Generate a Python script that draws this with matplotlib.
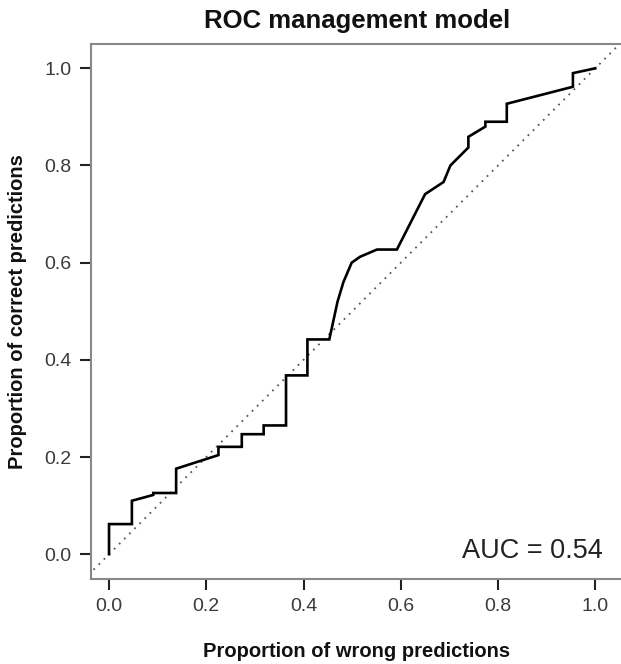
import matplotlib
matplotlib.use("Agg")
import matplotlib.pyplot as plt

# ROC curve points (false positive rate, true positive rate)
fpr = [0.0, 0.0, 0.047, 0.047, 0.091, 0.091, 0.138, 0.138, 0.225, 0.225, 0.273, 0.273,
       0.318, 0.318, 0.364, 0.364, 0.408, 0.408, 0.453, 0.470, 0.482, 0.499, 0.516,
       0.551, 0.592, 0.650, 0.688, 0.702, 0.739, 0.739, 0.774, 0.774, 0.818, 0.818,
       0.954, 0.954, 1.0]
tpr = [0.0, 0.062, 0.062, 0.110, 0.122, 0.126, 0.126, 0.176, 0.204, 0.221, 0.221, 0.247,
       0.247, 0.265, 0.265, 0.368, 0.368, 0.442, 0.442, 0.520, 0.560, 0.600, 0.612,
       0.627, 0.627, 0.741, 0.766, 0.800, 0.837, 0.859, 0.880, 0.890, 0.890, 0.927,
       0.962, 0.990, 1.0]
ticks = [0.0, 0.2, 0.4, 0.6, 0.8, 1.0]
tick_labels = ["0.0", "0.2", "0.4", "0.6", "0.8", "1.0"]
auc_text = "AUC = 0.54"

plt.rcParams['font.family'] = ['Liberation Sans', 'DejaVu Sans']

W, H = 621, 664
fig = plt.figure(figsize=(W / 100, H / 100), dpi=100)
ax_left, ax_right, ax_top, ax_bottom = 90.7, 623, 44, 579
ax = fig.add_axes([ax_left / W, (H - ax_bottom) / H, (ax_right - ax_left) / W, (ax_bottom - ax_top) / H])

ax.plot([-0.2, 1.2], [-0.2, 1.2], linestyle=(0, (1, 3)), color='#555555', linewidth=1.3)
ax.plot(fpr, tpr, color='black', linewidth=1.9, solid_joinstyle='miter')

ax.set_xlim(-0.0377, 1.057)
ax.set_ylim(-0.051, 1.05)
ax.set_xticks(ticks)
ax.set_xticklabels(tick_labels)
ax.set_yticks(ticks)
ax.set_yticklabels(tick_labels)
ax.tick_params(direction='out', length=8, width=1.5, color='#222222',
               labelsize=14, labelcolor='#3a3a3a', pad=6)
for s in ax.spines.values():
    s.set_color('#888888')
    s.set_linewidth(1.5)

cx = (ax_left + ax_right) / 2 / W
fig.text(cx, (H - 28) / H, "ROC management model", ha='center', va='baseline',
         fontsize=18.5, fontweight='bold', color='#111111')
fig.text(cx, (H - 657) / H, "Proportion of wrong predictions", ha='center', va='baseline',
         fontsize=14.5, fontweight='bold', color='#111111')
fig.text(18 / W, (H - (ax_top + ax_bottom) / 2) / H, "Proportion of correct predictions",
         ha='center', va='center', rotation=90, fontsize=14.5, fontweight='bold', color='#111111')

ax.text(1.016, -0.008, auc_text, ha='right', va='baseline', fontsize=19.5, color='#222222')

fig.savefig("out.png", dpi=100)
